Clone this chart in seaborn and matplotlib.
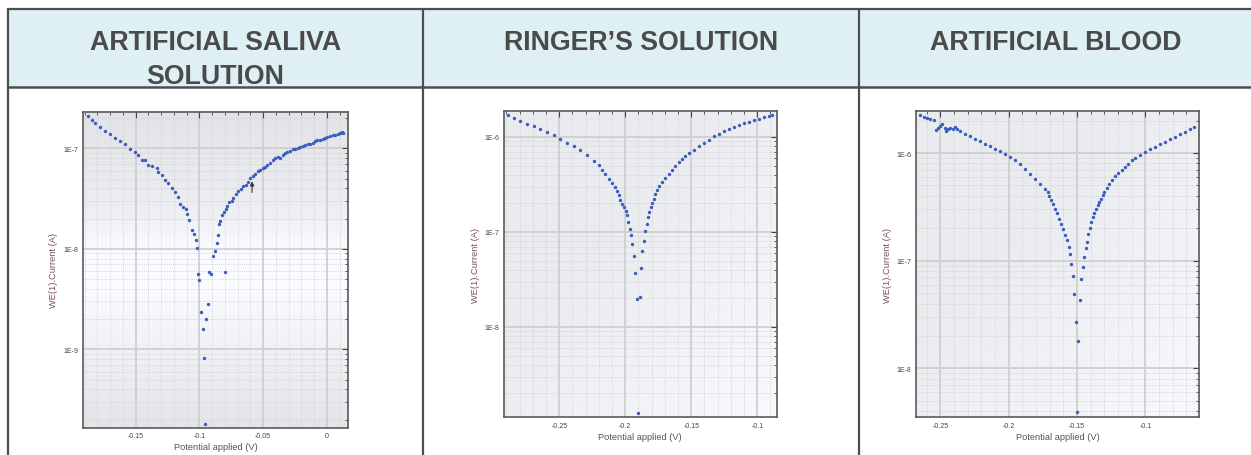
import numpy as np
import matplotlib
matplotlib.use("Agg")
import matplotlib.pyplot as plt
import matplotlib.ticker as mticker
from matplotlib.patches import Rectangle
import seaborn as sns

sns.set_theme(style="white")
plt.rcParams['font.family'] = ['Liberation Sans', 'DejaVu Sans']

# ---------------- data ----------------
titles = ["ARTIFICIAL SALIVA\nSOLUTION", "RINGER\u2019S SOLUTION", "ARTIFICIAL BLOOD"]
x_label = "Potential applied (V)"
y_label = "WE(1).Current (A)"

saliva_potential = [
    -0.1873, -0.1844, -0.1818, -0.1778, -0.1739, -0.1699, -0.1660, -0.1621, -0.1582, -0.1543,
    -0.1503, -0.1478, -0.1452, -0.1426, -0.1400, -0.1373, -0.1334, -0.1321, -0.1295, -0.1269,
    -0.1243, -0.1216, -0.1191, -0.1165, -0.1151, -0.1125, -0.1104, -0.1094, -0.1083, -0.1060,
    -0.1042, -0.1026, -0.1020, -0.1008, -0.1000, -0.0987, -0.0973, -0.0963, -0.0953, -0.0945,
    -0.0934, -0.0922, -0.0908, -0.0890, -0.0877, -0.0864, -0.0856, -0.0848, -0.0796,
    -0.0838, -0.0822, -0.0806, -0.0793, -0.0780, -0.0765, -0.0746, -0.0733, -0.0712, -0.0694,
    -0.0675, -0.0655, -0.0636, -0.0621, -0.0603, -0.0581, -0.0563, -0.0542, -0.0524, -0.0503,
    -0.0485, -0.0467, -0.0446, -0.0425, -0.0407, -0.0386, -0.0368, -0.0346, -0.0328, -0.0310,
    -0.0289, -0.0268, -0.0250, -0.0228, -0.0210, -0.0189, -0.0171, -0.0150, -0.0132, -0.0111,
    -0.0093, -0.0075, -0.0054, -0.0033, -0.0014, 0.0004, 0.0025, 0.0046, 0.0064, 0.0085,
    0.0103, 0.0121, 0.0129,
]
saliva_current = [
    2.09e-7, 1.93e-7, 1.79e-7, 1.63e-7, 1.49e-7, 1.38e-7, 1.27e-7, 1.17e-7, 1.09e-7, 9.77e-8,
    9.18e-8, 8.63e-8, 7.71e-8, 7.59e-8, 6.87e-8, 6.62e-8, 6.41e-8, 5.81e-8, 5.38e-8, 4.88e-8,
    4.52e-8, 4.03e-8, 3.67e-8, 3.27e-8, 2.81e-8, 2.61e-8, 2.51e-8, 2.20e-8, 1.92e-8, 1.55e-8,
    1.39e-8, 1.22e-8, 1.01e-8, 5.65e-9, 4.93e-9, 2.35e-9, 1.58e-9, 8.24e-10, 1.82e-10, 2.00e-9,
    2.84e-9, 5.87e-9, 5.65e-9, 8.41e-9, 9.51e-9, 1.15e-8, 1.36e-8, 1.75e-8, 5.89e-9,
    1.88e-8, 2.15e-8, 2.32e-8, 2.51e-8, 2.65e-8, 2.92e-8, 2.99e-8, 3.22e-8, 3.48e-8, 3.73e-8,
    3.96e-8, 4.25e-8, 4.29e-8, 4.62e-8, 5.11e-8, 5.33e-8, 5.58e-8, 5.90e-8, 6.12e-8, 6.37e-8,
    6.52e-8, 6.76e-8, 7.14e-8, 7.59e-8, 8.07e-8, 8.18e-8, 8.07e-8, 8.63e-8, 9.04e-8, 9.25e-8,
    9.46e-8, 9.77e-8, 9.91e-8, 1.01e-7, 1.04e-7, 1.06e-7, 1.08e-7, 1.10e-7, 1.10e-7, 1.14e-7,
    1.17e-7, 1.20e-7, 1.21e-7, 1.25e-7, 1.27e-7, 1.29e-7, 1.32e-7, 1.35e-7, 1.37e-7, 1.40e-7,
    1.43e-7, 1.46e-7, 1.42e-7,
]
saliva_arrow_potential = -0.0587
saliva_arrow_tip = 4.99e-8
saliva_arrow_tail = 3.41e-8

ringer_potential = [
    -0.2892, -0.2846, -0.2795, -0.2745, -0.2695, -0.2644, -0.2593, -0.2543, -0.2492, -0.2442,
    -0.2392, -0.2341, -0.2290, -0.2240, -0.2202, -0.2177, -0.2152, -0.2126, -0.2101, -0.2081,
    -0.2063, -0.2051, -0.2038, -0.2023, -0.2008, -0.1998, -0.1987, -0.1977, -0.1964, -0.1960,
    -0.1947, -0.1937, -0.1924, -0.1911, -0.1902, -0.1892, -0.1884, -0.1871, -0.1861, -0.1851,
    -0.1839, -0.1828, -0.1818, -0.1808, -0.1798, -0.1786, -0.1773, -0.1758, -0.1742, -0.1722,
    -0.1697, -0.1672, -0.1646, -0.1621, -0.1596, -0.1571, -0.1545, -0.1520, -0.1483, -0.1445,
    -0.1407, -0.1369, -0.1331, -0.1293, -0.1255, -0.1217, -0.1180, -0.1142, -0.1104, -0.1066,
    -0.1028, -0.0990, -0.0952, -0.0914, -0.0889,
]
ringer_current = [
    1.69e-6, 1.58e-6, 1.47e-6, 1.38e-6, 1.30e-6, 1.21e-6, 1.13e-6, 1.04e-6, 9.59e-7, 8.71e-7,
    7.98e-7, 7.24e-7, 6.41e-7, 5.58e-7, 5.04e-7, 4.46e-7, 4.05e-7, 3.64e-7, 3.28e-7, 2.98e-7,
    2.68e-7, 2.43e-7, 2.19e-7, 1.99e-7, 1.83e-7, 1.65e-7, 1.49e-7, 1.27e-7, 1.08e-7, 9.23e-8,
    7.43e-8, 5.58e-8, 3.70e-8, 1.97e-8, 1.25e-9, 2.07e-8, 4.21e-8, 6.31e-8, 8.04e-8, 1.03e-7,
    1.22e-7, 1.42e-7, 1.63e-7, 1.83e-7, 2.02e-7, 2.24e-7, 2.49e-7, 2.75e-7, 3.03e-7, 3.36e-7,
    3.73e-7, 4.11e-7, 4.53e-7, 4.99e-7, 5.46e-7, 5.92e-7, 6.37e-7, 6.79e-7, 7.36e-7, 7.98e-7,
    8.65e-7, 9.38e-7, 1.02e-6, 1.08e-6, 1.15e-6, 1.21e-6, 1.27e-6, 1.34e-6, 1.39e-6, 1.45e-6,
    1.50e-6, 1.56e-6, 1.61e-6, 1.66e-6, 1.71e-6,
]

blood_potential = [
    -0.2647, -0.2622, -0.2598, -0.2574, -0.2549, -0.2532, -0.2518, -0.2501, -0.2484, -0.2469,
    -0.2459, -0.2444, -0.2428, -0.2410, -0.2395, -0.2378, -0.2354, -0.2318, -0.2281, -0.2245,
    -0.2208, -0.2171, -0.2135, -0.2098, -0.2062, -0.2025, -0.1988, -0.1952, -0.1915, -0.1878,
    -0.1842, -0.1805, -0.1769, -0.1732, -0.1715, -0.1703, -0.1688, -0.1673, -0.1659, -0.1646,
    -0.1634, -0.1619, -0.1605, -0.1590, -0.1573, -0.1561, -0.1549, -0.1542, -0.1532, -0.1520,
    -0.1507, -0.1493, -0.1500,
    -0.1480, -0.1471, -0.1456, -0.1447, -0.1436, -0.1427, -0.1417, -0.1407, -0.1395, -0.1385,
    -0.1373, -0.1361, -0.1349, -0.1337, -0.1324, -0.1312, -0.1300, -0.1283, -0.1264, -0.1244,
    -0.1222, -0.1198, -0.1173, -0.1149, -0.1124, -0.1100, -0.1075, -0.1039, -0.1002, -0.0966,
    -0.0929, -0.0892, -0.0856, -0.0819, -0.0783, -0.0746, -0.0709, -0.0673, -0.0641,
]
blood_current = [
    2.24e-6, 2.17e-6, 2.11e-6, 2.06e-6, 2.01e-6, 1.64e-6, 1.72e-6, 1.78e-6, 1.85e-6, 1.71e-6,
    1.60e-6, 1.67e-6, 1.71e-6, 1.68e-6, 1.74e-6, 1.68e-6, 1.60e-6, 1.51e-6, 1.43e-6, 1.36e-6,
    1.29e-6, 1.22e-6, 1.15e-6, 1.10e-6, 1.04e-6, 9.86e-7, 9.18e-7, 8.55e-7, 7.85e-7, 7.14e-7,
    6.43e-7, 5.77e-7, 5.12e-7, 4.67e-7, 4.35e-7, 3.96e-7, 3.64e-7, 3.34e-7, 3.04e-7, 2.77e-7,
    2.45e-7, 2.21e-7, 1.98e-7, 1.72e-7, 1.57e-7, 1.34e-7, 1.15e-7, 9.27e-8, 7.16e-8, 4.88e-8,
    2.72e-8, 1.81e-8, 3.96e-9,
    4.35e-8, 6.71e-8, 8.75e-8, 1.09e-7, 1.31e-7, 1.50e-7, 1.76e-7, 2.00e-7, 2.29e-7, 2.55e-7,
    2.77e-7, 3.04e-7, 3.27e-7, 3.51e-7, 3.77e-7, 4.05e-7, 4.35e-7, 4.73e-7, 5.19e-7, 5.65e-7,
    6.08e-7, 6.56e-7, 7.00e-7, 7.41e-7, 7.96e-7, 8.55e-7, 8.99e-7, 9.53e-7, 1.02e-6, 1.08e-6,
    1.14e-6, 1.21e-6, 1.26e-6, 1.34e-6, 1.42e-6, 1.49e-6, 1.57e-6, 1.67e-6, 1.74e-6,
]

x_limits = [(-0.1915, 0.0165), (-0.2921, -0.0853), (-0.268, -0.0605)]
y_limits = [(1.65e-10, 2.31e-7), (1.12e-9, 1.86e-6), (3.51e-9, 2.44e-6)]
y_major_ticks = [[1e-9, 1e-8, 1e-7], [1e-8, 1e-7, 1e-6], [1e-8, 1e-7, 1e-6]]

# ---------------- layout (pixels) ----------------
W, H = 1251, 456
fig = plt.figure(figsize=(W / 100, H / 100), dpi=100)
fig.patch.set_facecolor("white")

bg = fig.add_axes([0, 0, 1, 1], zorder=-5)
bg.set_xlim(0, W)
bg.set_ylim(H, 0)
bg.axis("off")

# table header + borders
border = "#4d4d4d"
bg.add_patch(Rectangle((8, 10), 1253 - 8, 78, facecolor="#dff0f5", edgecolor="none", zorder=1))
bg.plot([8, 1260], [10, 10], color=border, lw=1.6, zorder=3, solid_capstyle="butt")
bg.plot([8, 1260], [88, 88], color=border, lw=1.8, zorder=3, solid_capstyle="butt")
for xv in (8, 423, 859):
    bg.plot([xv, xv], [9.3, 460], color=border, lw=1.6, zorder=3, solid_capstyle="butt")

col_centers = [215.5, 641, 1056]
for cx, t in zip(col_centers, titles):
    for k, line in enumerate(t.split("\n")):
        bg.text(cx, 50 + k * 33.5, line, ha="center", va="baseline", fontsize=19.3,
                fontweight="bold", color="#4a4a4a", zorder=4)

panel_px = [(82.7, 348.0, 112.7, 429.0), (503.7, 776.7, 112.3, 418.3), (915.7, 1199.3, 112.3, 418.3)]

# gradient backgrounds
def grad_panel1(n=200):
    t = np.linspace(0, 1, n)[:, None]
    prof = np.interp(t, [0, 0.3, 0.45, 0.55, 0.7, 1.0], [0.895, 0.935, 0.99, 0.99, 0.96, 0.9])
    return np.repeat(prof, 50, axis=1)

def grad_diag(n=200):
    yy, xx = np.mgrid[0:1:n * 1j, 0:1:n * 1j]
    return 0.925 + 0.055 * np.clip((xx + yy) / 2 - 0.35, 0, 1) / 0.65

grads = [grad_panel1(), grad_diag(), grad_diag()]
for (l, r, t, b), g in zip(panel_px, grads):
    rgb = np.dstack([g - 0.008, g - 0.003, g + 0.012])
    rgb = np.clip(rgb, 0, 1)
    bg.imshow(rgb, extent=[l, r, b, t], aspect="auto", zorder=2, interpolation="bilinear")

series = [(saliva_potential, saliva_current), (ringer_potential, ringer_current),
          (blood_potential, blood_current)]

def xfmt(v, pos):
    v = round(v, 4)
    if abs(v) < 1e-9:
        return "0"
    return "%g" % v

def yfmt(v, pos):
    e = int(round(np.log10(v)))
    return "1E%d" % e

for i, ((l, r, t, b), (xs, ys)) in enumerate(zip(panel_px, series)):
    ax = fig.add_axes([l / W, 1 - b / H, (r - l) / W, (b - t) / H])
    ax.patch.set_alpha(0)
    ax.set_yscale("log")
    sns.scatterplot(x=xs, y=ys, ax=ax, color="#3a5dbf", s=6, marker="o", linewidth=0, zorder=5)
    ax.set_xlim(*x_limits[i])
    ax.set_ylim(*y_limits[i])
    ax.xaxis.set_major_locator(mticker.MultipleLocator(0.05))
    ax.xaxis.set_minor_locator(mticker.MultipleLocator(0.01))
    ax.yaxis.set_major_locator(mticker.FixedLocator(y_major_ticks[i]))
    ax.yaxis.set_minor_locator(mticker.LogLocator(base=10, subs=np.arange(2, 10), numticks=20))
    ax.xaxis.set_major_formatter(mticker.FuncFormatter(xfmt))
    ax.yaxis.set_major_formatter(mticker.FuncFormatter(yfmt))
    ax.yaxis.set_minor_formatter(mticker.NullFormatter())
    ax.grid(True, which="major", color="#cfcfcf", lw=1.3, ls="-")
    ax.grid(True, which="minor", color="#cdcdcd", lw=0.5, ls=(0, (1.5, 1.5)))
    ax.set_axisbelow(True)
    ax.tick_params(which="both", direction="in", top=True, right=True, colors="#444444",
                   labelsize=5, pad=3.2)
    ax.tick_params(which="major", length=4, width=0.8)
    ax.tick_params(which="minor", length=2, width=0.6)
    for sp in ax.spines.values():
        sp.set_color("#5a5a5a")
        sp.set_linewidth(1.2)
    ax.set_xlabel(x_label, fontsize=6.7, color="#555555", labelpad=2)
    ax.set_ylabel(y_label, fontsize=6.7, color="#7a5050", labelpad=3.5)
    if i == 0:
        ax.annotate("", xy=(saliva_arrow_potential, saliva_arrow_tip),
                    xytext=(saliva_arrow_potential, saliva_arrow_tail),
                    arrowprops=dict(arrowstyle="-|>", color="#333333", lw=0.8,
                                    mutation_scale=6), zorder=6)

fig.savefig("out.png", dpi=100)
